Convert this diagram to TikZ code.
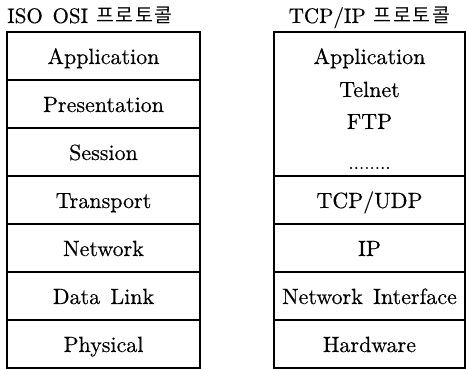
\documentclass[tikz,border=0pt]{standalone}
\usepackage{fontspec}
\setmainfont{lmroman10-regular.otf}[WordSpace=1.4,FakeBold=0.4]
\newfontfamily\kor{Noto Sans CJK KR}[LetterSpace=8]
\begin{document}
\begin{tikzpicture}[x=1pt,y=1pt,
  layer/.style={draw=black,line width=1.1pt,minimum width=193pt,minimum height=48pt,
    inner sep=0pt,font=\fontsize{22}{24}\selectfont,text height=20pt,text depth=4pt},
  tcpwide/.style={layer,minimum width=191pt},
  title/.style={inner sep=0pt,anchor=base,font=\fontsize{21}{23}\selectfont},
  celltext/.style={inner sep=0pt,anchor=base,font=\fontsize{22}{24}\selectfont}]
\useasboundingbox (0,0) rectangle (467,370);

% OSI reference model
\node[title,anchor=base west] (osititle) at (7,347) {ISO OSI\hspace{8pt}{\kor\fontsize{19.5}{21}\selectfont 프로토콜}};
\node[layer] (app)  at (103.5,314) {Application};
\node[layer] (pres) at (103.5,266) {Presentation};
\node[layer] (sess) at (103.5,218) {Session};
\node[layer] (trans) at (103.5,170) {Transport};
\node[layer] (net)  at (103.5,122) {Network};
\node[layer] (dl)   at (103.5,74)  {Data Link};
\node[layer] (phy)  at (103.5,26)  {Physical};

% TCP/IP protocol suite
\node[title] (tcptitle) at (369.5,347) {TCP/IP\hspace{8pt}{\kor\fontsize{19.5}{21}\selectfont 프로토콜}};
\node[draw=black,line width=1.1pt,minimum width=191pt,minimum height=144pt,inner sep=0pt] (appbox) at (369.5,266) {};
\node[celltext] (tapp)   at (369.5,306) {Application};
\node[celltext] (telnet) at (369.5,273) {Telnet};
\node[celltext] (ftp)    at (369.5,241) {FTP};
\node[inner sep=0pt,anchor=base,font=\fontsize{19}{21}\selectfont] (more) at (369.5,201) {........};
\node[tcpwide] (tcpudp) at (369.5,170) {TCP/UDP};
\node[tcpwide] (ip)     at (369.5,122) {IP};
\node[tcpwide] (nif)    at (369.5,74)  {Network Interface};
\node[tcpwide] (hw)     at (369.5,26)  {Hardware};
\end{tikzpicture}
\end{document}
